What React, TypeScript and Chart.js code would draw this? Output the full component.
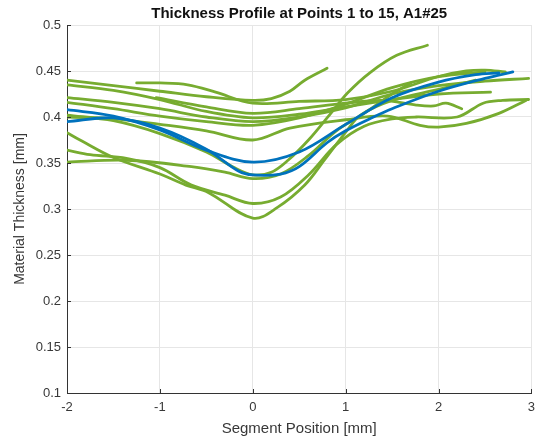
import { useEffect, useRef } from "react";
import { Chart, registerables } from "chart.js";

Chart.register(...registerables);

const GREEN = "#77ac30";
const BLUE = "#0072bd";

const titleText = "Thickness Profile at Points 1 to 15, A1#25";
const xTitle = "Segment Position [mm]";
const yTitle = "Material Thickness [mm]";

const xTicks = [-2, -1, 0, 1, 2, 3];
const yTicks = [0.1, 0.15, 0.2, 0.25, 0.3, 0.35, 0.4, 0.45, 0.5];

// Blue series
const blueAX = [-2, -1.5, -1, -0.5, 0, 0.5, 1, 1.5, 2, 2.4, 2.65];
const blueAY = [0.408, 0.401, 0.386, 0.364, 0.351, 0.362, 0.392, 0.421, 0.438, 0.446, 0.448];
const blueBX = [-2, -1.5, -1, -0.5, -0.15, 0, 0.3, 0.5, 0.8, 1, 1.3, 1.5, 2, 2.5, 2.8];
const blueBY = [0.395, 0.399, 0.388, 0.365, 0.341, 0.337, 0.338, 0.346, 0.372, 0.385, 0.4, 0.409, 0.428, 0.442, 0.449];

// Green series
const g1X = [-2, -1.5, -1, -0.5, 0, 0.2, 0.4, 0.56, 0.8];
const g1Y = [0.44, 0.434, 0.428, 0.422, 0.418, 0.42, 0.428, 0.44, 0.453];
const g2X = [-1.25, -1, -0.7, -0.4, 0, 0.5, 1, 1.5, 2, 2.3, 2.5, 2.72];
const g2Y = [0.437, 0.437, 0.435, 0.427, 0.415, 0.417, 0.419, 0.428, 0.444, 0.45, 0.451, 0.449];
const g3X = [-2, -1.5, -1, -0.5, 0, 0.5, 1, 1.5, 2, 2.56];
const g3Y = [0.435, 0.429, 0.419, 0.406, 0.399, 0.403, 0.411, 0.419, 0.425, 0.427];
const g4X = [-2, -1.5, -1, -0.5, 0, 0.5, 1, 1.5, 2, 2.5, 2.97];
const g4Y = [0.421, 0.416, 0.409, 0.4, 0.395, 0.4, 0.41, 0.425, 0.434, 0.439, 0.442];
const g5X = [-1.04, -0.5, 0, 0.5, 1, 1.4, 1.76, 1.95, 2.08, 2.25];
const g5Y = [0.421, 0.411, 0.404, 0.409, 0.415, 0.418, 0.413, 0.412, 0.415, 0.409];
const g6X = [-2, -1.5, -1, -0.5, 0, 0.5, 1, 1.5, 2, 2.5];
const g6Y = [0.416, 0.409, 0.401, 0.395, 0.391, 0.399, 0.414, 0.432, 0.444, 0.449];
const g7X = [-2, -1.5, -1, -0.5, 0, 0.4, 1, 1.45, 1.8, 2.0, 2.3, 2.65, 2.94];
const g7Y = [0.4, 0.398, 0.392, 0.385, 0.375, 0.388, 0.397, 0.401, 0.391, 0.389, 0.393, 0.404, 0.418];
const g8X = [-2, -1.75, -1.36, -1, -0.66, -0.3, 0, 0.3, 0.6, 0.9, 1.2, 1.5, 1.76, 2.2, 2.48, 2.69, 2.97];
const g8Y = [0.364, 0.359, 0.355, 0.345, 0.326, 0.315, 0.306, 0.313, 0.337, 0.37, 0.39, 0.398, 0.4, 0.4, 0.415, 0.418, 0.419];
const g9X = [-2, -1.5, -1, -0.5, -0.2, 0, 0.2, 0.38, 0.6, 0.84, 1.02, 1.26, 1.55, 1.88];
const g9Y = [0.402, 0.396, 0.382, 0.362, 0.345, 0.337, 0.34, 0.353, 0.375, 0.404, 0.426, 0.448, 0.467, 0.478];
const g10X = [-2, -1.36, -0.66, -0.3, 0, 0.3, 0.6, 0.9, 1.2, 1.5, 1.7];
const g10Y = [0.351, 0.353, 0.346, 0.34, 0.333, 0.338, 0.358, 0.385, 0.404, 0.425, 0.437];
const g11X = [-2, -1.86, -1.5, -1, -0.72, -0.48, 0, 0.27, 0.56, 0.77, 1.02, 1.16, 1.5, 2, 2.4];
const g11Y = [0.383, 0.375, 0.356, 0.338, 0.326, 0.318, 0.29, 0.302, 0.326, 0.353, 0.386, 0.402, 0.418, 0.43, 0.44];

const blueSeries = [
  [blueAX, blueAY],
  [blueBX, blueBY],
];
const greenSeries = [
  [g1X, g1Y],
  [g2X, g2Y],
  [g3X, g3Y],
  [g4X, g4Y],
  [g5X, g5Y],
  [g6X, g6Y],
  [g7X, g7Y],
  [g8X, g8Y],
  [g9X, g9Y],
  [g10X, g10Y],
  [g11X, g11Y],
];

const FONT = "'Liberation Sans', Arial, Helvetica, sans-serif";

function toPoints(xs: number[], ys: number[]) {
  return xs.map((x, i) => ({ x, y: ys[i] }));
}

const textPlugin = {
  id: "textPlugin",
  afterDraw(chart: any) {
    const { ctx, chartArea, scales } = chart;
    const cx = (chartArea.left + chartArea.right) / 2;
    const cy = (chartArea.top + chartArea.bottom) / 2;
    ctx.save();
    ctx.strokeStyle = "#333333";
    ctx.lineWidth = 1;
    ctx.beginPath();
    xTicks.forEach((t) => {
      const px = Math.round(scales.x.getPixelForValue(t)) + 0.5;
      ctx.moveTo(px, chartArea.bottom);
      ctx.lineTo(px, chartArea.bottom - 4);
    });
    yTicks.forEach((t) => {
      const py = Math.round(scales.y.getPixelForValue(t)) + 0.5;
      ctx.moveTo(chartArea.left, py);
      ctx.lineTo(chartArea.left + 4, py);
    });
    ctx.stroke();

    ctx.fillStyle = "#111111";
    ctx.textAlign = "center";
    ctx.textBaseline = "middle";
    ctx.font = `bold 15px ${FONT}`;
    ctx.fillText(titleText, cx, 14);
    ctx.fillStyle = "#383838";
    ctx.font = `15px ${FONT}`;
    ctx.fillText(xTitle, cx, 429);
    ctx.font = `14px ${FONT}`;
    ctx.translate(20, cy);
    ctx.rotate(-Math.PI / 2);
    ctx.fillText(yTitle, 0, 0);
    ctx.restore();
  },
};

export default function App() {
  const ref = useRef<HTMLCanvasElement>(null);
  useEffect(() => {
    const datasets: any[] = [];
    const mk = (xs: number[], ys: number[], color: string) => ({
      data: toPoints(xs, ys),
      borderColor: color,
      backgroundColor: color,
      borderWidth: 2.8,
      pointRadius: 0,
      tension: 0.35,
      borderCapStyle: "round",
      borderJoinStyle: "round",
      fill: false,
    });
    blueSeries.forEach(([xs, ys]) => datasets.push(mk(xs, ys, BLUE)));
    greenSeries.forEach(([xs, ys]) => datasets.push(mk(xs, ys, GREEN)));
    const chart = new Chart(ref.current!, {
      type: "line",
      data: { datasets },
      options: {
        responsive: false,
        animation: false,
        maintainAspectRatio: false,
        layout: { padding: { top: 25, right: 6, left: 0, bottom: 0 } },
        plugins: { legend: { display: false }, tooltip: { enabled: false }, title: { display: false } },
        scales: {
          x: {
            type: "linear",
            min: -2,
            max: 3,
            afterBuildTicks: (s: any) => {
              s.ticks = xTicks.map((v) => ({ value: v }));
            },
            afterFit: (s: any) => {
              s.height = 49;
            },
            ticks: {
              font: { family: FONT, size: 13 },
              color: "#383838",
              padding: 7,
              callback: (v: any) => String(v),
            },
            grid: { color: "#e6e6e6", drawTicks: false, lineWidth: 1 },
            border: { color: "#333333", width: 1 },
          },
          y: {
            type: "linear",
            min: 0.1,
            max: 0.5,
            afterBuildTicks: (s: any) => {
              s.ticks = yTicks.map((v) => ({ value: v }));
            },
            afterFit: (s: any) => {
              s.width = 67;
            },
            ticks: {
              font: { family: FONT, size: 13 },
              color: "#383838",
              padding: 6,
              callback: (v: any) => String(Number(Number(v).toFixed(2))),
            },
            grid: { color: "#e6e6e6", drawTicks: false, lineWidth: 1 },
            border: { color: "#333333", width: 1 },
          },
        },
      },
      plugins: [textPlugin],
    } as any);
    return () => chart.destroy();
  }, []);
  return (
    <div style={{ position: "absolute", left: 0, top: 0, width: 542, height: 442, background: "#fff" }}>
      <canvas ref={ref} width={542} height={442} style={{ width: 542, height: 442 }} />
    </div>
  );
}
